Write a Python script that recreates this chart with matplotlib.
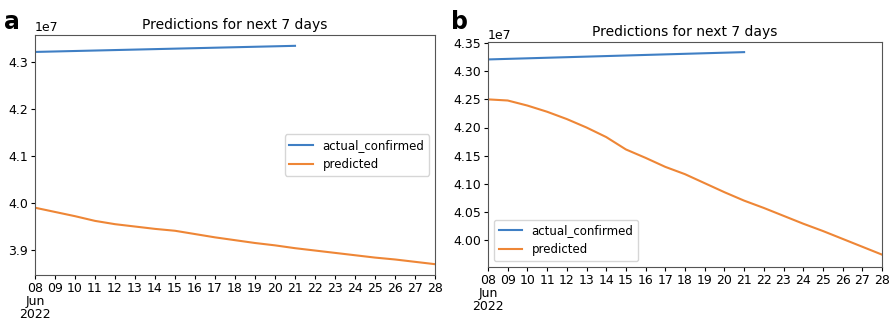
import numpy as np
import pandas as pd
import matplotlib
matplotlib.use("Agg")
import matplotlib.pyplot as plt
import matplotlib.dates as mdates

# dates
pred_dates = pd.date_range("2022-06-08", "2022-06-28", freq="D")
actual_dates = pd.date_range("2022-06-08", "2022-06-21", freq="D")

# actual confirmed (same in both panels)
actual_confirmed = [4.321, 4.322, 4.323, 4.324, 4.325, 4.326, 4.327, 4.328,
                    4.329, 4.330, 4.331, 4.332, 4.333, 4.334]

# predictions, panel a
predicted_a = [3.990, 3.981, 3.972, 3.962, 3.955, 3.950, 3.945, 3.941, 3.934,
               3.927, 3.921, 3.915, 3.910, 3.904, 3.899, 3.894, 3.889, 3.884,
               3.880, 3.875, 3.870]

# predictions, panel b
predicted_b = [4.250, 4.248, 4.239, 4.228, 4.215, 4.200, 4.183, 4.161, 4.146,
               4.130, 4.117, 4.101, 4.085, 4.070, 4.057, 4.043, 4.029, 4.016,
               4.002, 3.988, 3.974]

scale = 1e7
blue = "#3f7fc4"
orange = "#ee8636"


def day_fmt(x, pos=None):
    d = mdates.num2date(x)
    if d.day == 8:
        return d.strftime("%d\n%b\n%Y")
    return d.strftime("%d")


fig = plt.figure(figsize=(8.93, 3.2), dpi=100)
ax_a = fig.add_axes([35 / 893, 45 / 320, 400 / 893, 240 / 320])
ax_b = fig.add_axes([488 / 893, 53 / 320, 394 / 893, 225 / 320])

panels = [(ax_a, predicted_a, "center right", (3.847, 4.357), "a", 0.005),
          (ax_b, predicted_b, "lower left", (3.952, 4.352), "b", 0.505)]

for ax, pred, loc, ylim, letter, lx in panels:
    ax.plot(actual_dates, np.array(actual_confirmed) * scale, color=blue,
            lw=1.5, label="actual_confirmed")
    ax.plot(pred_dates, np.array(pred) * scale, color=orange, lw=1.5,
            label="predicted")
    ax.set_xlim(pred_dates[0], pred_dates[-1])
    ax.set_ylim(ylim[0] * scale, ylim[1] * scale)
    ax.xaxis.set_major_locator(mdates.DayLocator())
    ax.xaxis.set_major_formatter(plt.FuncFormatter(day_fmt))
    ax.tick_params(labelsize=9, length=3, pad=2)
    for lab in ax.get_xticklabels():
        lab.set_linespacing(1.0)
    ax.set_title("Predictions for next 7 days", fontsize=10, pad=4)
    ax.legend(loc=loc, fontsize=8.5)
    for s in ax.spines.values():
        s.set_color("#555555")
    fig.text(lx, 0.97, letter, fontsize=17, fontweight="bold", va="top")

ax_a.yaxis.get_offset_text().set_fontsize(9)
ax_b.yaxis.set_major_locator(plt.MultipleLocator(0.05 * scale))
ax_b.yaxis.set_major_formatter(plt.FuncFormatter(lambda v, p: "%.2f" % (v / scale)))
ax_b.text(0, 1.0, "1e7", transform=ax_b.transAxes, fontsize=9,
          va="bottom", ha="left")

fig.savefig("out.png", dpi=100)
